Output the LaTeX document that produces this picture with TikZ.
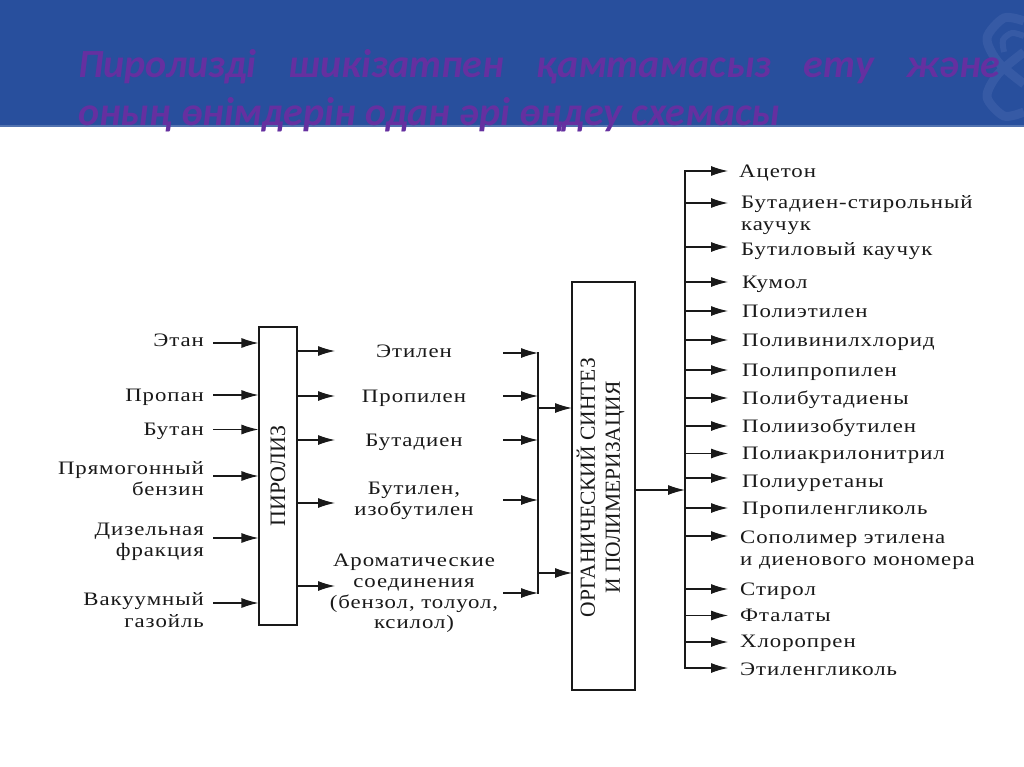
\documentclass[tikz,border=0pt]{standalone}
\usepackage{fontspec}
\setmainfont[FakeStretch=1.2,LetterSpace=5]{Liberation Serif}
\newfontfamily\boxfont{Liberation Serif}
\newfontfamily\titlefont{Carlito}
\usetikzlibrary{arrows.meta,positioning,calc}
\definecolor{bannerblue}{RGB}{40,79,157}
\definecolor{bannerline}{RGB}{82,115,176}
\definecolor{swirlblue}{RGB}{54,90,165}
\definecolor{titlepurple}{RGB}{101,48,160}
\definecolor{inkblack}{RGB}{25,25,25}
\tikzset{
  wire/.style={line width=1.2pt,inkblack,line cap=rect},
  arr/.style={-{Latex[length=17pt,width=10pt]},line width=1.2pt,inkblack},
  procbox/.style={draw=inkblack,line width=1.1pt,fill=white,inner sep=0pt},
  inlabel/.style={anchor=east,align=right,inner sep=0pt,font=\fontsize{19}{21.5}\selectfont,text=inkblack},
  midlabel/.style={align=center,inner sep=0pt,font=\fontsize{19}{20.8}\selectfont,text=inkblack},
  outlabel/.style={anchor=west,align=left,inner sep=0pt,font=\fontsize{19}{22}\selectfont,text=inkblack},
  oneline/.style={text height=12.5pt,text depth=0pt}
}
\begin{document}
\begin{tikzpicture}[x=1pt,y=-1pt]
\useasboundingbox (0,0) rectangle (1024,767);
\fill[white] (0,0) rectangle (1024,767);
% banner
\fill[bannerblue] (0,0) rectangle (1024,126);
\fill[bannerline] (0,125.5) rectangle (1024,127.5);
\draw[swirlblue,line width=9pt] plot[smooth] coordinates {(1024,21) (1004,18) (987,38) (998,62) (1024,84)};
\draw[swirlblue,line width=9pt] plot[smooth] coordinates {(1024,112) (1004,116) (987,97) (998,74) (1024,52)};
\draw[swirlblue,line width=6pt] plot[smooth] coordinates {(1004,52) (1003,40) (1012,33) (1024,36)};
\node[anchor=north west,inner sep=0pt,text width=922pt,align=justify,text=titlepurple,font=\titlefont\bfseries\itshape\fontsize{40}{48}\selectfont] (title) at (78,49) {Пиролизді шикізатпен қамтамасыз ету және\linebreak оның өнімдерін одан әрі өңдеу схемасы};
% boxes
\node[procbox,minimum width=38pt,minimum height=298pt] (piroliz) at (278,476) {};
\node[rotate=90,inner sep=0pt,font=\boxfont\fontsize{22}{25}\selectfont,text=inkblack] (pirolizname) at (piroliz) {ПИРОЛИЗ};
\node[procbox,minimum width=63pt,minimum height=408pt] (orgsintez) at (603.5,486) {};
\node[rotate=90,inner sep=0pt,align=center,font=\boxfont\fontsize{21.5}{25}\selectfont,text=inkblack] (orgname) at (600.5,487.5) {ОРГАНИЧЕСКИЙ СИНТЕЗ\\И ПОЛИМЕРИЗАЦИЯ};
% feedstocks
\node[inlabel,oneline] (etan) at (204,340) {Этан};
\node[inlabel,oneline] (propan) at (204,395) {Пропан};
\node[inlabel,oneline] (butan) at (204,429.5) {Бутан};
\node[inlabel] (benzin) at (204,478.5) {Прямогонный\\бензин};
\node[inlabel] (dizel) at (204,542) {Дизельная\\фракция};
\node[inlabel] (gazoil) at (204,610) {Вакуумный\\газойль};
\draw[arr,shorten <=9pt] ([yshift=-3pt]etan.east) -- ([yshift=-3pt]etan.east -| piroliz.west);
\draw[arr,shorten <=9pt] (propan.east) -- (propan.east -| piroliz.west);
\draw[arr,shorten <=9pt] (butan.east) -- (butan.east -| piroliz.west);
\draw[arr,shorten <=9pt] ([yshift=2.5pt]benzin.east) -- ([yshift=2.5pt]benzin.east -| piroliz.west);
\draw[arr,shorten <=9pt] ([yshift=4pt]dizel.east) -- ([yshift=4pt]dizel.east -| piroliz.west);
\draw[arr,shorten <=9pt] ([yshift=7pt]gazoil.east) -- ([yshift=7pt]gazoil.east -| piroliz.west);
% products of pyrolysis
\coordinate (midin) at (335,351);
\coordinate (midout) at (503,351);
\coordinate (lbustop) at (538,353);
\coordinate (lbusbot) at (538,593);
\node[midlabel,oneline] (etilen) at (414,351) {Этилен};
\node[midlabel,oneline] (propilen) at (414,396) {Пропилен};
\node[midlabel,oneline] (butadien) at (414,440) {Бутадиен};
\node[midlabel] (butilen) at (414,500.5) {Бутилен,\\изобутилен};
\node[midlabel] (aromat) at (414,593.5) {Ароматические\\соединения\\(бензол, толуол,\\ксилол)};
\draw[arr] (piroliz.east |- etilen) -- (midin |- etilen);
\draw[arr] (piroliz.east |- propilen) -- (midin |- propilen);
\draw[arr] (piroliz.east |- butadien) -- (midin |- butadien);
\draw[arr] ([yshift=-2.5pt]piroliz.east |- butilen) -- ([yshift=-2.5pt]midin |- butilen);
\draw[arr] ([yshift=7.5pt]piroliz.east |- aromat) -- ([yshift=7.5pt]midin |- aromat);
\draw[arr] ([yshift=-2pt]midout |- etilen) -- ([yshift=-2pt]lbustop |- etilen);
\draw[arr] (midout |- propilen) -- (lbustop |- propilen);
\draw[arr] (midout |- butadien) -- (lbustop |- butadien);
\draw[arr] ([yshift=.5pt]midout |- butilen) -- ([yshift=.5pt]lbustop |- butilen);
\draw[arr] ([yshift=.5pt]midout |- aromat) -- ([yshift=.5pt]lbustop |- aromat);
\draw[wire] (lbustop) -- (lbusbot);
\coordinate (orgup) at (572,408);
\coordinate (orgdown) at (572,573);
\draw[arr] (lbustop |- orgup) -- (orgup);
\draw[arr] (lbustop |- orgdown) -- (orgdown);
% final products
\coordinate (rbustop) at (685,171);
\coordinate (rbusbot) at (685,668);
\coordinate (orgout) at (635,490);
\draw[wire] (rbustop) -- (rbusbot);
\draw[arr] (orgout) -- (rbustop |- orgout);
\node[outlabel,oneline] (aceton) at (739,171) {Ацетон};
\node[outlabel] (bskauchuk) at (741,215) {Бутадиен-стирольный\\каучук};
\node[outlabel,oneline] (bkauchuk) at (741,249) {Бутиловый каучук};
\node[outlabel,oneline] (kumol) at (742,282) {Кумол};
\node[outlabel,oneline] (pe) at (742,311) {Полиэтилен};
\node[outlabel,oneline] (pvc) at (742,340) {Поливинилхлорид};
\node[outlabel,oneline] (pp) at (742,370) {Полипропилен};
\node[outlabel,oneline] (pbd) at (742,398) {Полибутадиены};
\node[outlabel,oneline] (pib) at (742,426) {Полиизобутилен};
\node[outlabel,oneline] (pan) at (742,453.5) {Полиакрилонитрил};
\node[outlabel,oneline] (pu) at (742,481) {Полиуретаны};
\node[outlabel,oneline] (pg) at (742,508) {Пропиленгликоль};
\node[outlabel] (sopolimer) at (740,550) {Сополимер этилена\\и диенового мономера};
\node[outlabel,oneline] (stirol) at (740,589) {Стирол};
\node[outlabel,oneline] (ftalat) at (740,615.5) {Фталаты};
\node[outlabel,oneline] (hlopren) at (740,641) {Хлоропрен};
\node[outlabel,oneline] (eg) at (740,669) {Этиленгликоль};
\draw[arr,shorten >=11pt] (rbustop |- aceton.west) -- (aceton.west);
\draw[arr,shorten >=13pt] ([yshift=12pt]rbustop |- bskauchuk.west) -- ([yshift=12pt]bskauchuk.west);
\draw[arr,shorten >=13pt] ([yshift=2pt]rbustop |- bkauchuk.west) -- ([yshift=2pt]bkauchuk.west);
\draw[arr,shorten >=14pt] (rbustop |- kumol.west) -- (kumol.west);
\draw[arr,shorten >=14pt] (rbustop |- pe.west) -- (pe.west);
\draw[arr,shorten >=14pt] (rbustop |- pvc.west) -- (pvc.west);
\draw[arr,shorten >=14pt] (rbustop |- pp.west) -- (pp.west);
\draw[arr,shorten >=14pt] (rbustop |- pbd.west) -- (pbd.west);
\draw[arr,shorten >=14pt] (rbustop |- pib.west) -- (pib.west);
\draw[arr,shorten >=14pt] (rbustop |- pan.west) -- (pan.west);
\draw[arr,shorten >=14pt] ([yshift=3pt]rbustop |- pu.west) -- ([yshift=3pt]pu.west);
\draw[arr,shorten >=14pt] (rbustop |- pg.west) -- (pg.west);
\draw[arr,shorten >=12pt] ([yshift=14pt]rbustop |- sopolimer.west) -- ([yshift=14pt]sopolimer.west);
\draw[arr,shorten >=12pt] (rbustop |- stirol.west) -- (stirol.west);
\draw[arr,shorten >=12pt] (rbustop |- ftalat.west) -- (ftalat.west);
\draw[arr,shorten >=12pt] ([yshift=-1pt]rbustop |- hlopren.west) -- ([yshift=-1pt]hlopren.west);
\draw[arr,shorten >=12pt] ([yshift=1pt]rbustop |- eg.west) -- ([yshift=1pt]eg.west);
\end{tikzpicture}
\end{document}
